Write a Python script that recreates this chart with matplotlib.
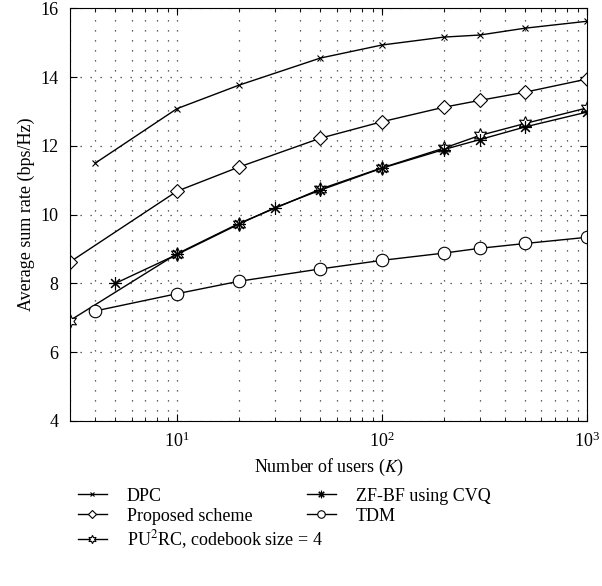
import numpy as np
import matplotlib.pyplot as plt

plt.rcParams['font.family'] = ['Liberation Serif', 'DejaVu Serif']
plt.rcParams['mathtext.fontset'] = 'stix'

# data
x_dpc = [4, 10, 20, 50, 100, 200, 300, 500, 1000]
y_dpc = [11.5, 13.08, 13.76, 14.55, 14.93, 15.16, 15.22, 15.42, 15.62]

x_prop = [3, 10, 20, 50, 100, 200, 300, 500, 1000]
y_prop = [8.62, 10.68, 11.38, 12.22, 12.7, 13.12, 13.32, 13.56, 13.94]

x_pu2rc = [3, 10, 20, 50, 100, 200, 300, 500, 1000]
y_pu2rc = [6.92, 8.86, 9.74, 10.74, 11.36, 11.93, 12.3, 12.65, 13.1]

x_zf = [5, 10, 20, 30, 50, 100, 200, 300, 500, 1000]
y_zf = [8.0, 8.84, 9.72, 10.2, 10.71, 11.35, 11.89, 12.18, 12.55, 12.98]

x_tdm = [4, 10, 20, 50, 100, 200, 300, 500, 1000]
y_tdm = [7.2, 7.7, 8.06, 8.42, 8.67, 8.88, 9.02, 9.16, 9.34]

fig = plt.figure(figsize=(6.02, 5.86), dpi=100)
ax = fig.add_axes([0.116, 0.2816, 0.859, 0.7044])

lw = 1.0
ax.plot(x_dpc, y_dpc, color='k', lw=lw, marker='x', ms=5, mew=0.8, label='DPC')
ax.plot(x_prop, y_prop, color='k', lw=lw, marker='D', ms=7, mfc='white', mew=0.8,
        label='Proposed scheme')
ax.plot(x_pu2rc, y_pu2rc, color='k', lw=lw, marker=(6, 1, 0), ms=10, mfc='white', mew=0.8,
        label=r'PU$^2$RC, codebook size = 4')
ax.plot(x_zf, y_zf, color='k', lw=lw, marker=(8, 2, 0), ms=9, mew=0.8,
        label='ZF-BF using CVQ')
ax.plot(x_tdm, y_tdm, color='k', lw=lw, marker='o', ms=9, mfc='white', mew=0.8, label='TDM')

ax.set_xscale('log')
ax.set_xlim(3, 1000)
ax.set_ylim(4, 16)
ax.set_yticks(np.arange(4, 17, 2))
ax.grid(True, which='both', linestyle=(0, (1, 7)), linewidth=0.9, color='#333333')
ax.tick_params(which='both', direction='in', top=True, right=True, labelsize=13)
ax.tick_params(which='major', length=5, pad=8)
ax.tick_params(which='minor', length=3)

ax.set_xlabel(r'Number of users ($K$)', fontsize=13)
ax.set_ylabel('Average sum rate (bps/Hz)', fontsize=13)

handles, labels = ax.get_legend_handles_labels()
leg_kw = dict(loc='upper left', frameon=False, fontsize=13, handlelength=1.6,
              handletextpad=1.1, labelspacing=0.18, markerscale=0.6, borderpad=0,
              borderaxespad=0)
fig.legend(handles[:3], labels[:3], bbox_to_anchor=(78 / 602, 0.168), **leg_kw)
fig.legend(handles[3:], labels[3:], bbox_to_anchor=(307 / 602, 0.168), **leg_kw)

fig.savefig('out.png', dpi=100)
